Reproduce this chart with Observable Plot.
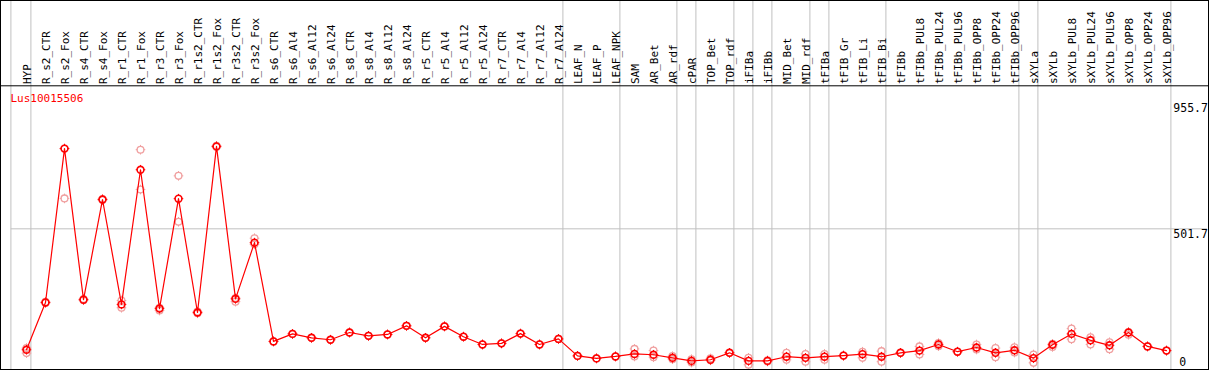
<!DOCTYPE html>
<html>
<head>
<meta charset="utf-8">
<script src="https://cdn.jsdelivr.net/npm/d3@7"></script>
<script src="https://cdn.jsdelivr.net/npm/@observablehq/plot@0.6"></script>
<style>
  body { margin: 0; background: #fff; }
  #chart svg { display: block; outline: 1px solid #000; outline-offset: -1px; }
  g[aria-label="header"] text, g[aria-label="title"] text { letter-spacing: -0.75px; }
</style>
</head>
<body>
<div id="chart"></div>
<script>
const title = "Lus10015506";

const categories = [
  "HYP", "R_s2_CTR", "R_s2_Fox", "R_s4_CTR", "R_s4_Fox", "R_r1_CTR", "R_r1_Fox", "R_r3_CTR", "R_r3_Fox",
  "R_r1s2_CTR", "R_r1s2_Fox", "R_r3s2_CTR", "R_r3s2_Fox", "R_s6_CTR", "R_s6_Al4", "R_s6_Al12", "R_s6_Al24",
  "R_s8_CTR", "R_s8_Al4", "R_s8_Al12", "R_s8_Al24", "R_r5_CTR", "R_r5_Al4", "R_r5_Al12", "R_r5_Al24",
  "R_r7_CTR", "R_r7_Al4", "R_r7_Al12", "R_r7_Al24", "LEAF_N", "LEAF_P", "LEAF_NPK", "SAM", "AR_Bet", "AR_rdf",
  "cPAR", "TOP_Bet", "TOP_rdf", "iFIBa", "iFIBb", "MID_Bet", "MID_rdf", "tFIBa", "tFIB_Gr", "tFIB_Li", "tFIB_Bi",
  "tFIBb", "tFIBb_PUL8", "tFIBb_PUL24", "tFIBb_PUL96", "tFIBb_OPP8", "tFIBb_OPP24", "tFIBb_OPP96",
  "sXYLa", "sXYLb", "sXYLb_PUL8", "sXYLb_PUL24", "sXYLb_PUL96", "sXYLb_OPP8", "sXYLb_OPP24", "sXYLb_OPP96"
];

const means = [
  67, 237, 790, 247, 607, 230, 714, 215, 610,
  201, 798, 250, 452, 97, 124, 110, 103,
  129, 117, 122, 153, 110, 151, 114, 86,
  90, 125, 86, 106, 45, 36, 43, 52, 49, 38,
  27, 31, 56, 27, 27, 42, 38, 42, 46, 51, 42,
  56, 64, 86, 60, 75, 56, 65,
  37, 85, 124, 101, 83, 129, 79, 64
];

const rep1 = [
  55, 235, 611, 245, 605, 244, 786, 208, 692,
  198, 796, 240, 468, 97, 124, 110, 103,
  129, 117, 122, 153, 110, 151, 114, 86,
  90, 125, 86, 106, 45, 36, 43, 70, 64, 44,
  33, 36, 56, 38, 29, 56, 52, 52, 46, 60, 62,
  56, 79, 91, 60, 86, 73, 76,
  50, 77, 143, 112, 94, 121, 79, 64
];

const rep2 = [
  73, 239, 790, 249, 609, 218, 643, 218, 527,
  204, 800, 253, 446, 97, 124, 110, 103,
  129, 117, 122, 153, 110, 151, 114, 86,
  90, 125, 86, 106, 45, 36, 43, 43, 40, 33,
  21, 29, 56, 13, 25, 31, 24, 31, 46, 38, 24,
  56, 50, 80, 60, 68, 40, 57,
  20, 88, 105, 86, 69, 131, 79, 64
];

// group separators drawn just after these categories
const separatorAfter = [
  "HYP", "R_r7_Al24", "LEAF_NPK", "AR_rdf", "cPAR", "TOP_rdf", "iFIBa", "iFIBb",
  "MID_rdf", "tFIBa", "tFIB_Bi", "tFIBb_OPP96", "sXYLa", "sXYLb_OPP96"
];

const yMax = 955.7;
const yGrid = [501.7];
const yTicksTop = [955.7, 501.7];
const yTicksBottom = [0];

const rows = categories.map((c, i) => ({c, mean: means[i]}));
const reps = categories.flatMap((c, i) => [{c, v: rep1[i]}, {c, v: rep2[i]}]);

const W = 1209, H = 370;
const mT = 102, mB = 2.1, mL = 26.3, mR = 42.7;

const ticksSymbol = {
  draw(ctx, size) {
    const r = Math.sqrt(size / Math.PI);
    const a = r * 0.66;
    ctx.moveTo(-r, 0); ctx.lineTo(-a, 0);
    ctx.moveTo(a, 0); ctx.lineTo(r, 0);
    ctx.moveTo(0, -r); ctx.lineTo(0, -a);
    ctx.moveTo(0, a); ctx.lineTo(0, r);
  }
};

const plot = Plot.plot({
  width: W, height: H,
  marginTop: mT, marginBottom: mB, marginLeft: mL, marginRight: mR,
  x: {type: "point", domain: categories, padding: 0, axis: null},
  y: {domain: [0, yMax], axis: null},
  style: {fontFamily: "'DejaVu Sans Mono', monospace", background: "white", overflow: "visible"},
  marks: [
    Plot.ruleY(yGrid, {stroke: "#c0c0c0", strokeWidth: 1, insetLeft: -15.6, insetRight: -40.7}),
    Plot.ruleX([categories[0]], {stroke: "#c0c0c0", strokeWidth: 1, dx: -15.6, insetTop: -mT, insetBottom: -mB}),
    Plot.ruleX(separatorAfter, {stroke: "#c0c0c0", strokeWidth: 1, dx: 4.4, insetTop: -mT, insetBottom: -mB}),
    Plot.frame({anchor: "top", stroke: "#000", dy: -16.7, insetLeft: -mL, insetRight: -mR}),
    Plot.text(categories, {
      x: d => d, text: d => d, frameAnchor: "top", rotate: -90,
      textAnchor: "start", lineAnchor: "middle", dx: 0.5, dy: -18.5, fontSize: 11, fill: "#000",
      ariaLabel: "header"
    }),
    Plot.text([title], {
      frameAnchor: "top-left", text: d => d, fill: "red", textAnchor: "start",
      lineAnchor: "bottom", dx: -16.3, dy: -0.5, fontSize: 11, ariaLabel: "title"
    }),
    Plot.text(yTicksTop, {
      y: d => d, text: d => String(d), frameAnchor: "right", textAnchor: "start",
      lineAnchor: "top", dx: 6.5, dy: 1, fontSize: 11.5, fill: "#000"
    }),
    Plot.text(yTicksBottom, {
      y: d => d, text: d => String(d), frameAnchor: "right", textAnchor: "start",
      lineAnchor: "bottom", dx: 12.5, dy: -2.4, fontSize: 11.5, fill: "#000"
    }),
    Plot.dot(reps, {x: "c", y: "v", r: 3.4, stroke: "#f0a0a0", strokeWidth: 1.3, fill: "none"}),
    Plot.dot(reps, {x: "c", y: "v", r: 4.8, symbol: ticksSymbol, stroke: "#f0a0a0", strokeWidth: 1}),
    Plot.line(rows, {x: "c", y: "mean", stroke: "#ff0000", strokeWidth: 1.2}),
    Plot.dot(rows, {x: "c", y: "mean", r: 3.4, stroke: "#ff0000", strokeWidth: 1.6, fill: "none"}),
    Plot.dot(rows, {x: "c", y: "mean", r: 4.8, symbol: ticksSymbol, stroke: "#ff0000", strokeWidth: 1})
  ]
});

document.getElementById("chart").append(plot);
</script>
</body>
</html>
